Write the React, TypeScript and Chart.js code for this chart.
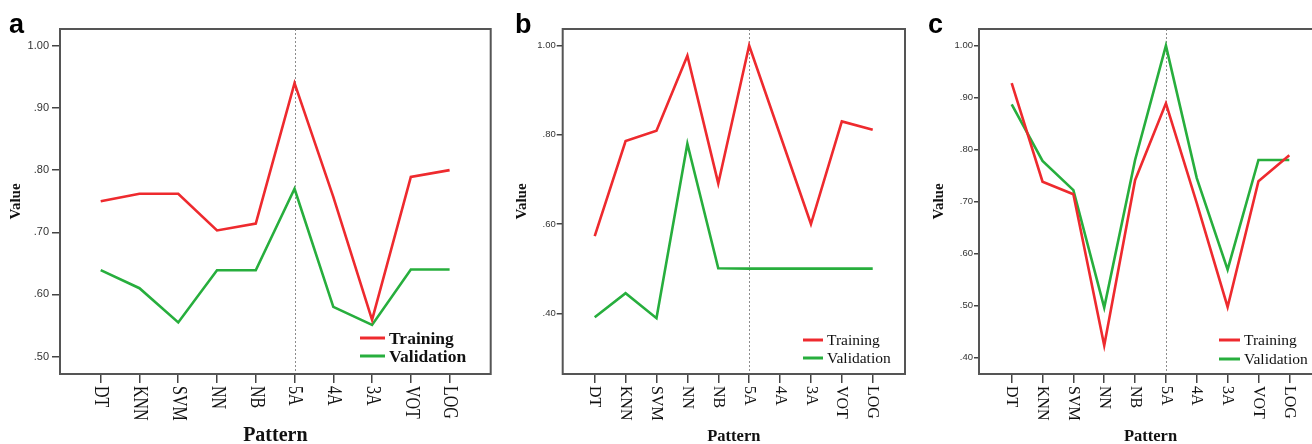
import React, { useEffect, useRef } from 'react';
import { Chart, registerables } from 'chart.js';

Chart.register(...registerables);

// ---------- data ----------
const categories = ['DT', 'KNN', 'SVM', 'NN', 'NB', '5A', '4A', '3A', 'VOT', 'LOG'];
const seriesNames = ['Training', 'Validation'];

const aTraining = [0.750, 0.762, 0.762, 0.703, 0.714, 0.940, 0.757, 0.559, 0.789, 0.800];
const aValidation = [0.639, 0.610, 0.555, 0.639, 0.639, 0.770, 0.580, 0.551, 0.640, 0.640];

const bTraining = [0.573, 0.786, 0.809, 0.977, 0.691, 1.000, 0.800, 0.600, 0.830, 0.811];
const bValidation = [0.391, 0.445, 0.389, 0.780, 0.501, 0.500, 0.500, 0.500, 0.500, 0.500];

const cTraining = [0.928, 0.738, 0.714, 0.423, 0.741, 0.889, 0.697, 0.497, 0.739, 0.789];
const cValidation = [0.887, 0.778, 0.722, 0.496, 0.780, 1.000, 0.745, 0.569, 0.780, 0.780];

const yTicksA = [0.5, 0.6, 0.7, 0.8, 0.9, 1.0];
const yTicksB = [0.4, 0.6, 0.8, 1.0];
const yTicksC = [0.4, 0.5, 0.6, 0.7, 0.8, 0.9, 1.0];

const markerCategory = '5A';

// ---------- styles / layout ----------
const seriesColors = ['#ee2a2e', '#27ae3d'];
const SERIF = '"Liberation Serif", "Times New Roman", serif';
const SANS = '"Liberation Sans", Arial, sans-serif';
const H = 444;
const FRAME_TOP = 29;
const FRAME_BOTTOM = 374;

type Panel = {
  letter: string;
  series: number[][];
  yTicks: number[];
  yMin: number;
  yMax: number;
  left: number;
  width: number;
  frameLeft: number;
  frameRight: number;
  xPadL: number;
  xPadR: number;
  yFont: number;
  yTickLen: number;
  yPad: number;
  xFont: number;
  xStretch: number;
  legendBold: boolean;
  legendFont: number;
  legendX: number;
  legendLen: number;
  legendY: number[];
  patternFont: number;
  valueX: number;
  letterX: number;
};

const panels: Panel[] = [
  {
    letter: 'a', series: [aTraining, aValidation], yTicks: yTicksA, yMin: 0.472, yMax: 1.027,
    left: 0, width: 500, frameLeft: 60, frameRight: 490.7, xPadL: 1.05, xPadR: 1.06,
    yFont: 11, yTickLen: 8, yPad: 3, xFont: 16, xStretch: 1.25,
    legendBold: true, legendFont: 17.5, legendX: 360, legendLen: 25, legendY: [338, 356],
    patternFont: 20, valueX: 16, letterX: 9,
  },
  {
    letter: 'b', series: [bTraining, bValidation], yTicks: yTicksB, yMin: 0.264, yMax: 1.037,
    left: 440, width: 520, frameLeft: 562.7, frameRight: 905, xPadL: 1.036, xPadR: 1.045,
    yFont: 9.5, yTickLen: 6, yPad: 1, xFont: 16, xStretch: 1.05,
    legendBold: false, legendFont: 15.5, legendX: 803, legendLen: 20, legendY: [340, 358],
    patternFont: 16.5, valueX: 522, letterX: 515,
  },
  {
    letter: 'c', series: [cTraining, cValidation], yTicks: yTicksC, yMin: 0.368, yMax: 1.032,
    left: 880, width: 460, frameLeft: 979, frameRight: 1322, xPadL: 1.06, xPadR: 1.06,
    yFont: 9.5, yTickLen: 5, yPad: 1, xFont: 16, xStretch: 1.05,
    legendBold: false, legendFont: 15.5, legendX: 1219, legendLen: 21, legendY: [340, 359],
    patternFont: 16.5, valueX: 939, letterX: 928,
  },
];

function fmtTick(v: number): string {
  if (v >= 0.9999) return v.toFixed(2);
  return '.' + String(Math.round(v * 100)).padStart(2, '0');
}

function PanelChart({ p }: { p: Panel }) {
  const ref = useRef<HTMLCanvasElement>(null);

  useEffect(() => {
    const canvas = ref.current;
    if (!canvas) return;
    const L = p.left;

    const decor = {
      id: 'decor_' + p.letter,
      beforeDatasetsDraw(chart: any) {
        const { ctx, chartArea: ca, scales } = chart;
        const xm = scales.x.getPixelForValue(categories.indexOf(markerCategory));
        ctx.save();
        ctx.strokeStyle = '#8c8c8c';
        ctx.lineWidth = 1;
        ctx.setLineDash([2, 2]);
        ctx.beginPath();
        ctx.moveTo(Math.round(xm) + 0.5, ca.top);
        ctx.lineTo(Math.round(xm) + 0.5, ca.bottom);
        ctx.stroke();
        ctx.restore();
      },
      afterDraw(chart: any) {
        const { ctx, chartArea: ca, scales } = chart;
        ctx.save();
        // frame
        ctx.strokeStyle = '#555';
        ctx.lineWidth = 2;
        ctx.beginPath();
        ctx.rect(ca.left, ca.top, ca.right - ca.left, ca.bottom - ca.top);
        ctx.stroke();

        // x labels (rotated clockwise)
        ctx.fillStyle = '#111';
        ctx.font = `${p.xFont}px ${SERIF}`;
        ctx.textAlign = 'left';
        ctx.textBaseline = 'middle';
        categories.forEach((lab, i) => {
          const x = scales.x.getPixelForValue(i);
          ctx.save();
          ctx.translate(x, FRAME_BOTTOM + 12);
          ctx.rotate(Math.PI / 2);
          ctx.scale(1, p.xStretch);
          ctx.fillText(lab, 0, 0);
          ctx.restore();
        });

        // x title
        ctx.font = `bold ${p.patternFont}px ${SERIF}`;
        ctx.textAlign = 'center';
        ctx.textBaseline = 'alphabetic';
        ctx.fillText('Pattern', (ca.left + ca.right) / 2, 441);

        // y title
        ctx.save();
        ctx.translate(p.valueX - L, (ca.top + ca.bottom) / 2);
        ctx.rotate(-Math.PI / 2);
        ctx.font = `bold 15px ${SERIF}`;
        ctx.textAlign = 'center';
        ctx.textBaseline = 'middle';
        ctx.fillText('Value', 0, 0);
        ctx.restore();

        // panel letter
        ctx.font = `bold 27px ${SANS}`;
        ctx.textAlign = 'left';
        ctx.textBaseline = 'alphabetic';
        ctx.fillStyle = '#000';
        ctx.fillText(p.letter, p.letterX - L, 33);

        // legend
        seriesNames.forEach((name, k) => {
          const y = p.legendY[k];
          ctx.strokeStyle = seriesColors[k];
          ctx.lineWidth = 3;
          ctx.beginPath();
          ctx.moveTo(p.legendX - L, y);
          ctx.lineTo(p.legendX - L + p.legendLen, y);
          ctx.stroke();
          ctx.fillStyle = '#111';
          ctx.font = `${p.legendBold ? 'bold ' : ''}${p.legendFont}px ${SERIF}`;
          ctx.textAlign = 'left';
          ctx.textBaseline = 'middle';
          ctx.fillText(name, p.legendX - L + p.legendLen + 4, y + 1);
        });
        ctx.restore();
      },
    };

    const chart = new Chart(canvas, {
      type: 'line',
      data: {
        datasets: seriesNames.map((name, k) => ({
          label: name,
          data: p.series[k].map((v, i) => ({ x: i, y: v })),
          borderColor: seriesColors[k],
          backgroundColor: seriesColors[k],
          borderWidth: 2.6,
          pointRadius: 0,
          tension: 0,
          fill: false,
        })),
      },
      options: {
        animation: false,
        responsive: false,
        maintainAspectRatio: false,
        events: [],
        layout: {
          padding: { top: FRAME_TOP, right: L + p.width - p.frameRight, left: 0, bottom: 0 },
        },
        plugins: {
          legend: { display: false },
          title: { display: false },
          tooltip: { enabled: false },
        },
        scales: {
          x: {
            type: 'linear',
            min: -p.xPadL,
            max: categories.length - 1 + p.xPadR,
            afterBuildTicks: (s: any) => {
              s.ticks = categories.map((_, i) => ({ value: i }));
            },
            afterFit: (s: any) => {
              s.height = H - FRAME_BOTTOM;
            },
            ticks: { display: false },
            grid: {
              display: true,
              drawOnChartArea: false,
              drawTicks: true,
              tickLength: 9,
              color: '#444',
              lineWidth: 1.5,
            },
            border: { display: false },
          },
          y: {
            type: 'linear',
            min: p.yMin,
            max: p.yMax,
            afterBuildTicks: (s: any) => {
              s.ticks = p.yTicks.map((v) => ({ value: v }));
            },
            afterFit: (s: any) => {
              s.width = p.frameLeft - L;
            },
            ticks: {
              callback: (v: any) => fmtTick(Number(v)),
              font: { family: SANS, size: p.yFont },
              color: '#333',
              padding: p.yPad,
            },
            grid: {
              display: true,
              drawOnChartArea: false,
              drawTicks: true,
              tickLength: p.yTickLen,
              color: '#444',
              lineWidth: 1.5,
            },
            border: { display: false },
          },
        },
      },
      plugins: [decor],
    } as any);

    return () => chart.destroy();
  }, [p]);

  return (
    <canvas
      ref={ref}
      width={p.width}
      height={H}
      style={{ position: 'absolute', left: p.left, top: 0, width: p.width, height: H }}
    />
  );
}

export default function App() {
  return (
    <div
      style={{
        position: 'fixed',
        left: 0,
        top: 0,
        width: 1312,
        height: H,
        overflow: 'hidden',
        background: '#fff',
      }}
    >
      {panels.map((p) => (
        <PanelChart key={p.letter} p={p} />
      ))}
    </div>
  );
}
